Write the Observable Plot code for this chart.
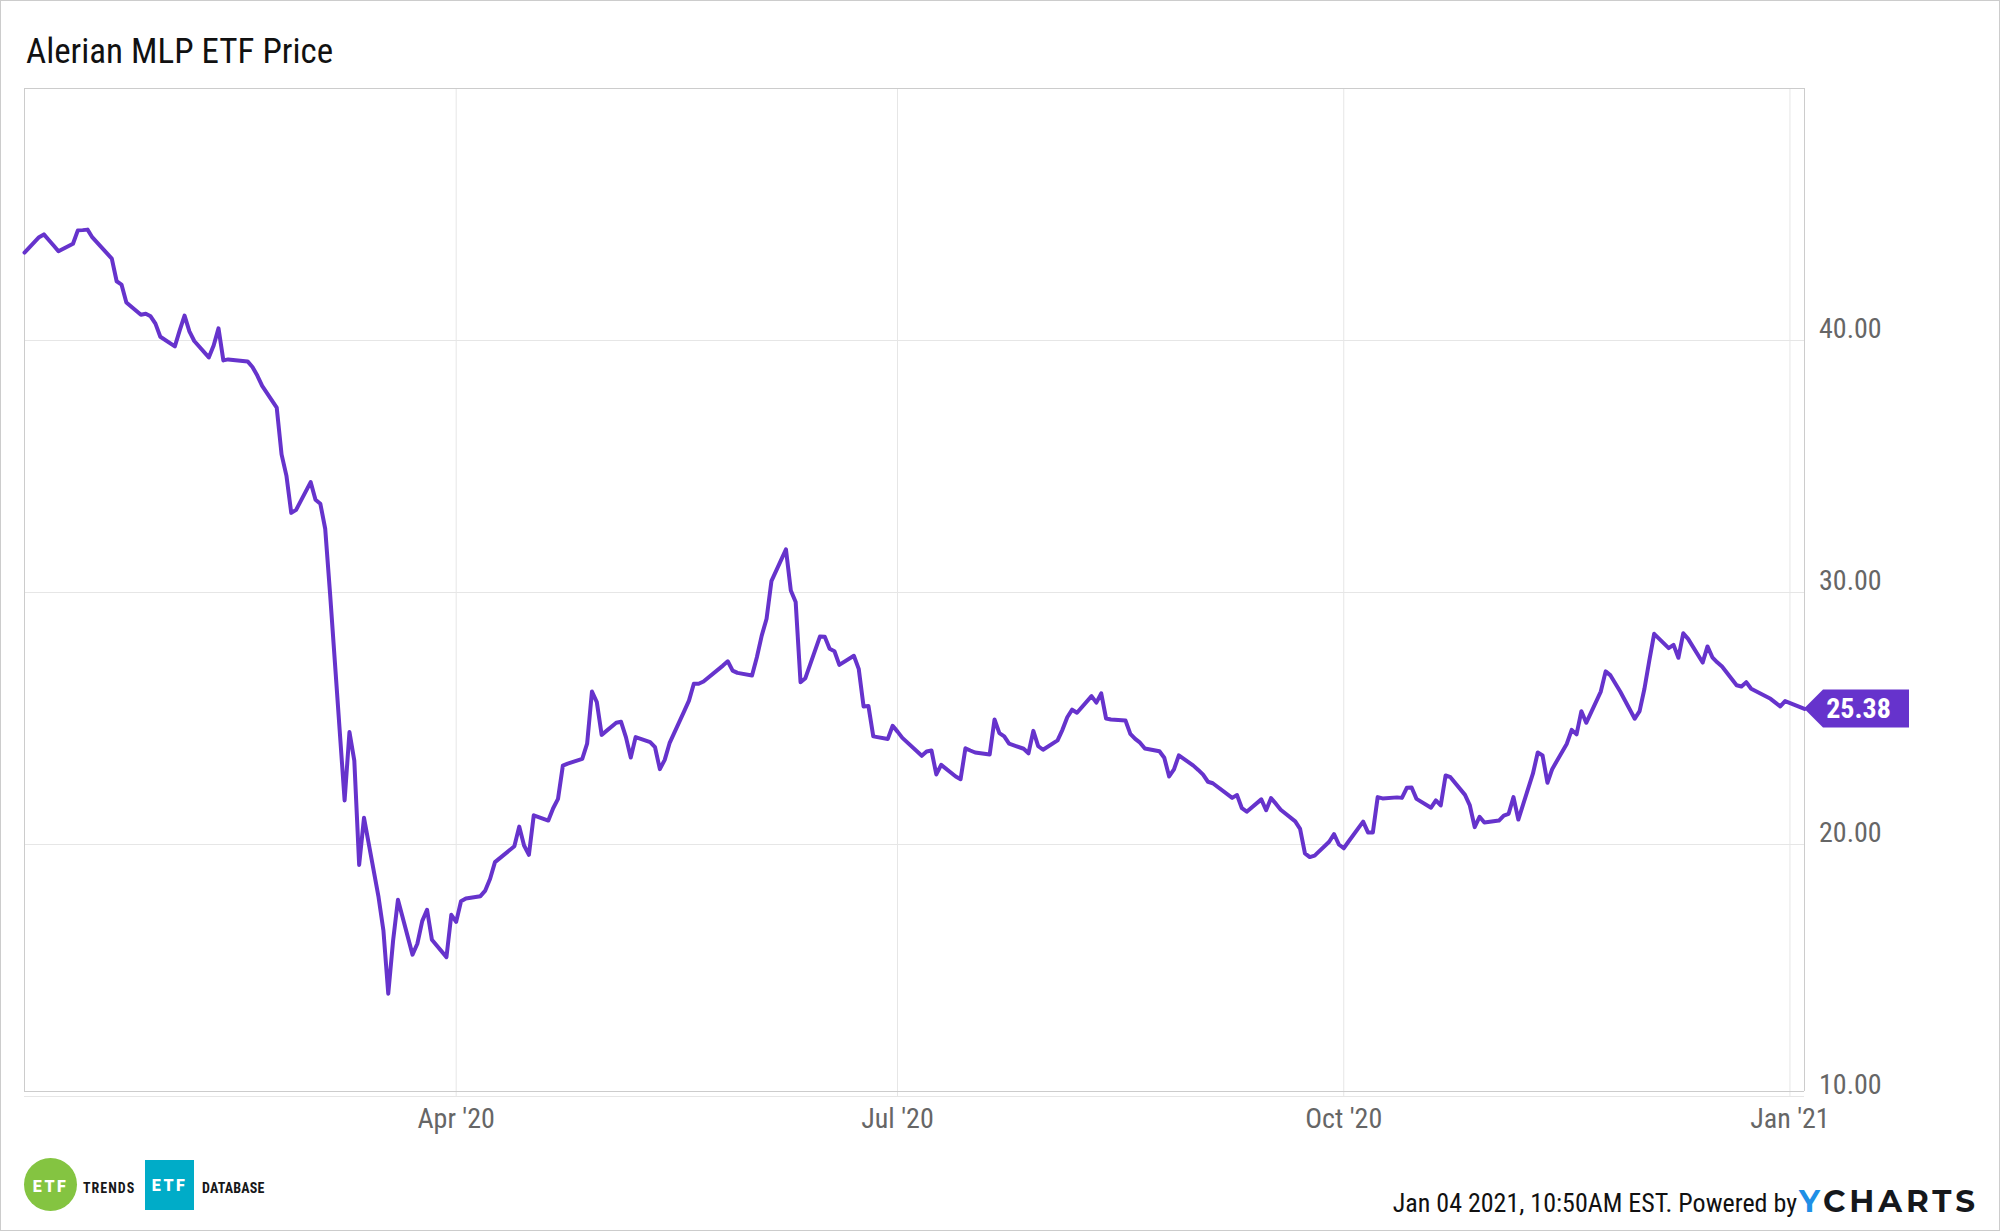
<!DOCTYPE html>
<html>
<head>
<meta charset="utf-8">
<script src="https://cdn.jsdelivr.net/npm/d3@7"></script>
<script src="https://cdn.jsdelivr.net/npm/@observablehq/plot@0.6"></script>
<style>
  html, body { margin: 0; padding: 0; background: #fff; }
  #page { position: relative; width: 2000px; height: 1231px; overflow: hidden; font-family: "Roboto Condensed", Roboto, sans-serif; }
  #page svg { display: block; position: absolute; left: 0; top: 0; }
  #border { position: absolute; inset: 0; border: 1px solid #ccc; box-sizing: border-box; pointer-events: none; }
  .t { position: absolute; white-space: nowrap; line-height: 1; }
  #title { left: 26px; top: 34px; font-size: 35px; color: #111; }
  #stamp { right: 203px; top: 1190px; font-size: 26px; color: #111; }
  #yc { left: 1799px; top: 1186px; font-family: Montserrat, Roboto, sans-serif; font-weight: 700; font-size: 31px; letter-spacing: 3.9px; color: #15181c; }
  #yc b { color: #1f8fe6; font-weight: 700; }
  #circle { position: absolute; left: 24px; top: 1158px; width: 53px; height: 53px; border-radius: 50%; background: #84c441; }
  #square { position: absolute; left: 145px; top: 1160px; width: 49px; height: 50px; background: #00acc8; }
  .etf { position: absolute; width: 100%; text-align: center; font: 900 16px/1 Roboto, sans-serif; letter-spacing: 2.5px; color: #fff; }
  .brand { font: 700 14px/1 "Roboto Condensed", Roboto, sans-serif; letter-spacing: 1px; color: #17181a; top: 1181px; }
</style>
</head>
<body>
<div id="page">
  <div id="border"></div>
  <div id="title" class="t">Alerian MLP ETF Price</div>
  <div id="circle"><div class="etf" style="top:21px">ETF</div></div>
  <div class="t brand" style="left:83px">TRENDS</div>
  <div id="square"><div class="etf" style="top:18px">ETF</div></div>
  <div class="t brand" style="left:202px;letter-spacing:0.2px">DATABASE</div>
  <div id="stamp" class="t">Jan 04 2021, 10:50AM EST. Powered by</div>
  <div id="yc" class="t"><b>Y</b>CHARTS</div>
</div>
<script>
const dates = [
"2020-01-03","2020-01-06","2020-01-07","2020-01-08","2020-01-09","2020-01-10","2020-01-13","2020-01-14","2020-01-15","2020-01-16","2020-01-17","2020-01-21","2020-01-22","2020-01-23","2020-01-24","2020-01-27","2020-01-28","2020-01-29","2020-01-30","2020-01-31",
"2020-02-03","2020-02-04","2020-02-05","2020-02-06","2020-02-07","2020-02-10","2020-02-11","2020-02-12","2020-02-13","2020-02-14","2020-02-18","2020-02-19","2020-02-20","2020-02-21","2020-02-24","2020-02-25","2020-02-26","2020-02-27","2020-02-28",
"2020-03-02","2020-03-03","2020-03-04","2020-03-05","2020-03-06","2020-03-09","2020-03-10","2020-03-11","2020-03-12","2020-03-13","2020-03-16","2020-03-17","2020-03-18","2020-03-19","2020-03-20","2020-03-23","2020-03-24","2020-03-25","2020-03-26","2020-03-27","2020-03-30","2020-03-31",
"2020-04-01","2020-04-02","2020-04-03","2020-04-06","2020-04-07","2020-04-08","2020-04-09","2020-04-13","2020-04-14","2020-04-15","2020-04-16","2020-04-17","2020-04-20","2020-04-21","2020-04-22","2020-04-23","2020-04-24","2020-04-27","2020-04-28","2020-04-29","2020-04-30",
"2020-05-01","2020-05-04","2020-05-05","2020-05-06","2020-05-07","2020-05-08","2020-05-11","2020-05-12","2020-05-13","2020-05-14","2020-05-15","2020-05-18","2020-05-19","2020-05-20","2020-05-21","2020-05-22","2020-05-26","2020-05-27","2020-05-28","2020-05-29",
"2020-06-01","2020-06-02","2020-06-03","2020-06-04","2020-06-05","2020-06-08","2020-06-09","2020-06-10","2020-06-11","2020-06-12","2020-06-15","2020-06-16","2020-06-17","2020-06-18","2020-06-19","2020-06-22","2020-06-23","2020-06-24","2020-06-25","2020-06-26","2020-06-29","2020-06-30",
"2020-07-01","2020-07-02","2020-07-06","2020-07-07","2020-07-08","2020-07-09","2020-07-10","2020-07-13","2020-07-14","2020-07-15","2020-07-16","2020-07-17","2020-07-20","2020-07-21","2020-07-22","2020-07-23","2020-07-24","2020-07-27","2020-07-28","2020-07-29","2020-07-30","2020-07-31",
"2020-08-03","2020-08-04","2020-08-05","2020-08-06","2020-08-07","2020-08-10","2020-08-11","2020-08-12","2020-08-13","2020-08-14","2020-08-17","2020-08-18","2020-08-19","2020-08-20","2020-08-21","2020-08-24","2020-08-25","2020-08-26","2020-08-27","2020-08-28","2020-08-31",
"2020-09-01","2020-09-02","2020-09-03","2020-09-04","2020-09-08","2020-09-09","2020-09-10","2020-09-11","2020-09-14","2020-09-15","2020-09-16","2020-09-17","2020-09-18","2020-09-21","2020-09-22","2020-09-23","2020-09-24","2020-09-25","2020-09-28","2020-09-29","2020-09-30",
"2020-10-01","2020-10-02","2020-10-05","2020-10-06","2020-10-07","2020-10-08","2020-10-09","2020-10-12","2020-10-13","2020-10-14","2020-10-15","2020-10-16","2020-10-19","2020-10-20","2020-10-21","2020-10-22","2020-10-23","2020-10-26","2020-10-27","2020-10-28","2020-10-29","2020-10-30",
"2020-11-02","2020-11-03","2020-11-04","2020-11-05","2020-11-06","2020-11-09","2020-11-10","2020-11-11","2020-11-12","2020-11-13","2020-11-16","2020-11-17","2020-11-18","2020-11-19","2020-11-20","2020-11-23","2020-11-24","2020-11-25","2020-11-27","2020-11-30",
"2020-12-01","2020-12-02","2020-12-03","2020-12-04","2020-12-07","2020-12-08","2020-12-09","2020-12-10","2020-12-11","2020-12-14","2020-12-15","2020-12-16","2020-12-17","2020-12-18","2020-12-21","2020-12-22","2020-12-23","2020-12-24","2020-12-28","2020-12-29","2020-12-30","2020-12-31",
"2021-01-04"
];
const prices = [
43.49,44.10,44.21,43.99,43.77,43.54,43.84,44.37,44.38,44.40,44.09,43.25,42.35,42.22,41.51,41.02,41.06,40.96,40.67,40.15,
39.77,40.40,40.99,40.36,39.98,39.33,39.80,40.48,39.21,39.25,39.17,38.95,38.61,38.20,37.34,35.48,34.64,33.16,33.28,
34.38,33.68,33.52,32.53,29.96,21.75,24.46,23.33,19.19,21.06,17.91,16.59,14.08,16.19,17.81,15.63,16.06,16.96,17.41,16.22,15.53,17.21,
16.93,17.75,17.86,17.95,18.17,18.64,19.30,19.93,20.71,19.96,19.59,21.16,20.95,21.44,21.81,23.13,23.21,23.40,24.00,26.07,25.65,
24.35,24.83,24.87,24.26,23.45,24.26,24.06,23.86,22.99,23.36,24.02,25.28,25.71,26.38,26.38,26.47,27.10,27.27,26.90,26.81,
26.71,27.43,28.29,28.96,30.45,31.71,30.08,29.62,26.44,26.60,28.25,28.24,27.77,27.67,27.13,27.49,26.97,25.48,25.50,24.29,24.19,24.71,
24.48,24.23,23.52,23.69,23.73,22.78,23.16,22.70,22.59,23.82,23.73,23.65,23.57,24.96,24.42,24.29,24.00,23.80,23.62,24.51,23.90,23.76,
24.13,24.55,25.05,25.35,25.23,25.89,25.63,26.00,25.00,24.96,24.92,24.39,24.19,24.04,23.81,23.70,23.44,22.70,22.98,23.54,23.13,
22.96,22.77,22.49,22.43,21.85,21.96,21.44,21.30,21.79,21.36,21.84,21.62,21.38,20.92,20.62,19.65,19.50,19.56,20.11,20.41,20.00,
19.85,20.12,20.91,20.48,20.48,21.88,21.83,21.87,21.85,22.25,22.26,21.81,21.46,21.75,21.55,22.74,22.67,21.97,21.55,20.69,21.10,20.87,
20.95,21.15,21.22,21.88,20.99,22.81,23.65,23.53,22.45,23.00,24.00,24.55,24.37,25.29,24.83,26.07,26.87,26.71,26.07,24.99,
25.29,26.18,27.30,28.36,27.79,27.92,27.41,28.38,28.16,27.22,27.86,27.43,27.23,27.06,26.32,26.27,26.44,26.18,25.78,25.63,25.48,25.69,
25.38
];
const yTicks = [10, 20, 30, 40];
const xTickDates = ["2020-04-01", "2020-07-01", "2020-10-01", "2021-01-01"];
const xTickLabels = ["Apr '20", "Jul '20", "Oct '20", "Jan '21"];
const xDomain = ["2020-01-03", "2021-01-04"];
const yDomain = [10, 50];
const frameFloor = 10.198;
const lineColor = "#6633cc";

const parse = d3.utcParse("%Y-%m-%d");
const series = dates.map((d, i) => ({date: parse(d), price: prices[i]}));
const last = series[series.length - 1];
const xTicks = xTickDates.map(parse);
const domainX = xDomain.map(parse);
const labelOf = new Map(xTicks.map((d, i) => [+d, xTickLabels[i]]));
const condensed = '"Roboto Condensed", Roboto, sans-serif';

function tag(index, scales) {
  const x = scales.x(last.date), y = scales.y(last.price);
  const g = d3.create("svg:g");
  g.append("path")
    .attr("fill", lineColor)
    .attr("d", `M${x},${y}L${x + 19},${y - 19}H${x + 105}V${y + 19}H${x + 19}Z`);
  return g.node();
}

const chart = Plot.plot({
  width: 2000,
  height: 1231,
  marginLeft: 24,
  marginRight: 196,
  marginTop: 88,
  marginBottom: 135,
  style: {fontFamily: condensed, background: "transparent", overflow: "visible"},
  x: {type: "utc", domain: domainX},
  y: {type: "linear", domain: yDomain},
  marks: [
    Plot.ruleY(yTicks, {stroke: "#e6e6e6", strokeWidth: 1}),
    Plot.ruleX(xTicks, {stroke: "#e6e6e6", strokeWidth: 1}),
    Plot.ruleY([frameFloor, yDomain[1]], {stroke: "#ccc", strokeWidth: 1}),
    Plot.ruleX(domainX, {y1: frameFloor, y2: yDomain[1], stroke: "#ccc", strokeWidth: 1}),
    Plot.axisY({anchor: "right", ticks: yTicks, tickFormat: d => d.toFixed(2), tickSize: 0, tickPadding: 14.5, dy: -11, fontSize: 28, color: "#666", label: null, textAnchor: "start"}),
    Plot.axisX({ticks: xTicks, tickFormat: d => labelOf.get(+d), tickSize: 0, tickPadding: 12, fontSize: 28, color: "#666", label: null}),
    Plot.line(series, {x: "date", y: "price", stroke: lineColor, strokeWidth: 4, strokeLinejoin: "round"}),
    tag,
    Plot.text([last], {x: "date", y: "price", text: d => d.price.toFixed(2), dx: 54, fill: "#fff", fontSize: 28, fontWeight: 700})
  ]
});
document.getElementById("page").prepend(chart);
</script>
</body>
</html>
